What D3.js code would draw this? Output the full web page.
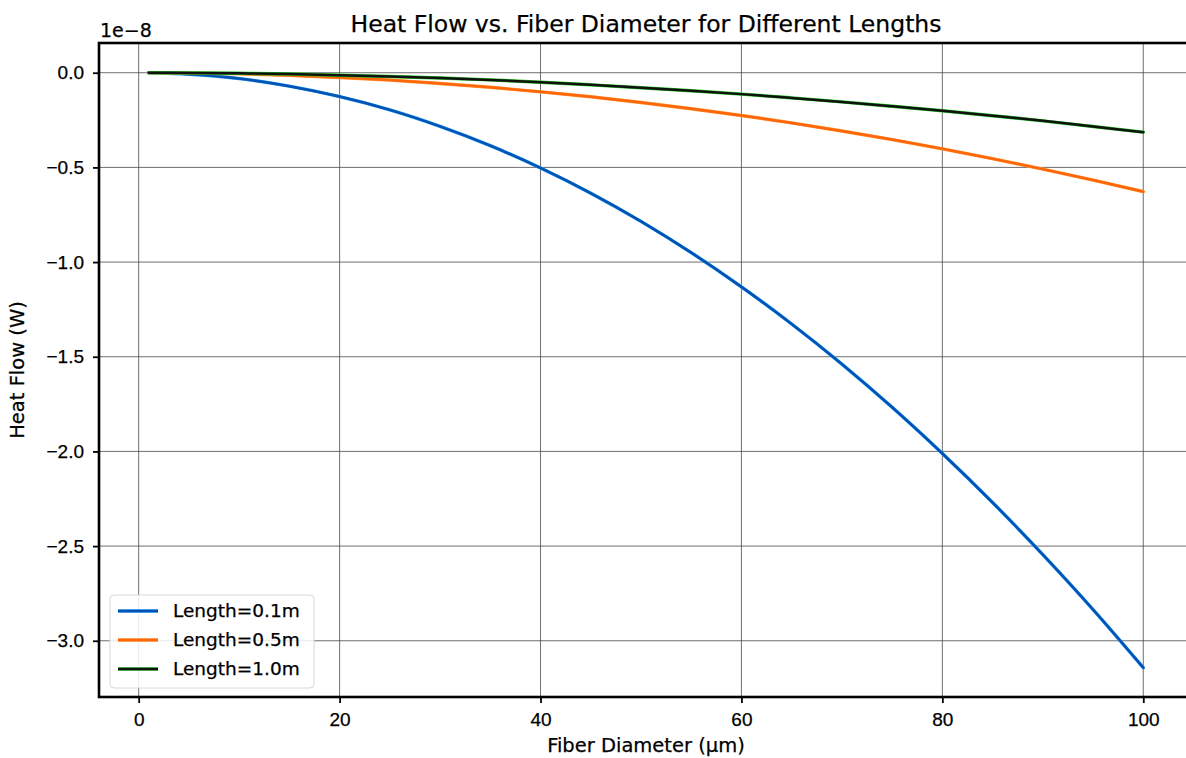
<!DOCTYPE html>
<html>
<head>
<meta charset="utf-8">
<script src="https://cdn.jsdelivr.net/npm/d3@7"></script>
<style>
  body { margin: 0; background: #fff; }
  svg { display: block; font-family: "DejaVu Sans", sans-serif; }
  text { stroke: #000; stroke-width: 0.25px; }
  .grid line { stroke: #4a4a4a; stroke-width: 0.8; }
  .axis path { display: none; }
  .axis line { stroke: #000; stroke-width: 1.8; }
  .axis text { font-size: 19px; fill: #000; }
</style>
</head>
<body>
<div id="chart"></div>
<script>
// Fiber diameters (µm) and heat flow values (in units of 1e-8 W)
const diameters = [1, 5, 10, 15, 20, 25, 30, 35, 40, 45, 50, 55, 60, 65, 70, 75, 80, 85, 90, 95, 100];
const flowShort = [-0.0003, -0.008, -0.031, -0.071, -0.126, -0.196, -0.283, -0.385, -0.503, -0.636, -0.785,
  -0.950, -1.131, -1.327, -1.539, -1.767, -2.011, -2.270, -2.545, -2.835, -3.142];
const flowMid = [-0.0001, -0.002, -0.006, -0.014, -0.025, -0.039, -0.057, -0.077, -0.101, -0.127, -0.157,
  -0.190, -0.226, -0.265, -0.308, -0.353, -0.402, -0.454, -0.509, -0.567, -0.628];
const flowLong = [0, -0.001, -0.003, -0.007, -0.013, -0.020, -0.028, -0.038, -0.050, -0.064, -0.079,
  -0.095, -0.113, -0.133, -0.154, -0.177, -0.201, -0.227, -0.254, -0.284, -0.314];
const seriesNames = ['Length=0.1m', 'Length=0.5m', 'Length=1.0m'];
const xTicks = [0, 20, 40, 60, 80, 100];
const yTicks = [0, -0.5, -1.0, -1.5, -2.0, -2.5, -3.0];

const series = [
  { name: seriesNames[0], values: flowShort, color: '#0052b4', halo: '#2a9cf0' },
  { name: seriesNames[1], values: flowMid, color: '#ff660a', halo: '#ff9a3c' },
  { name: seriesNames[2], values: flowLong, color: '#111', halo: '#22cc22' }
];

const width = 1186, height = 758;
const margin = { top: 43, right: -7, bottom: 61, left: 99 };

const svg = d3.select('#chart').append('svg')
  .attr('width', width)
  .attr('height', height);

const x = d3.scaleLinear()
  .domain([-3.95, 104.95])
  .range([margin.left, width - margin.right]);

const y = d3.scaleLinear()
  .domain([-3.297, 0.157])
  .range([height - margin.bottom, margin.top]);

// Grid lines
svg.append('g').attr('class', 'grid')
  .selectAll('line').data(xTicks).join('line')
  .attr('x1', d => x(d)).attr('x2', d => x(d))
  .attr('y1', margin.top).attr('y2', height - margin.bottom);
svg.append('g').attr('class', 'grid')
  .selectAll('line').data(yTicks).join('line')
  .attr('y1', d => y(d)).attr('y2', d => y(d))
  .attr('x1', margin.left).attr('x2', width - margin.right);

// Axes
svg.append('g').attr('class', 'axis')
  .attr('transform', `translate(0,${height - margin.bottom})`)
  .call(d3.axisBottom(x).tickValues(xTicks).tickSize(6).tickPadding(10).tickFormat(d3.format('d')));

svg.append('g').attr('class', 'axis')
  .attr('transform', `translate(${margin.left},0)`)
  .call(d3.axisLeft(y).tickValues(yTicks).tickSize(6).tickPadding(9)
    .tickFormat(d => d3.format('.1f')(d).replace('-', '\u2212')));

// Lines
const line = d3.line()
  .x((d, i) => x(diameters[i]))
  .y(d => y(d))
  .curve(d3.curveMonotoneX);

const lineGroup = svg.append('g');
series.forEach(s => {
  lineGroup.append('path')
    .attr('d', line(s.values))
    .attr('fill', 'none')
    .attr('stroke', s.halo)
    .attr('stroke-width', 3.4)
    .attr('stroke-linecap', 'round');
  lineGroup.append('path')
    .attr('d', line(s.values))
    .attr('fill', 'none')
    .attr('stroke', s.color)
    .attr('stroke-width', 2.5)
    .attr('stroke-linecap', 'round');
});

// Spines
svg.append('rect')
  .attr('x', margin.left)
  .attr('y', margin.top)
  .attr('width', width - margin.right - margin.left)
  .attr('height', height - margin.bottom - margin.top)
  .attr('fill', 'none')
  .attr('stroke', '#000')
  .attr('stroke-width', 2.6);

// Title, labels, offset text
svg.append('text')
  .attr('x', (margin.left + width - margin.right) / 2)
  .attr('y', 32)
  .attr('text-anchor', 'middle')
  .attr('font-size', 23.5)
  .text('Heat Flow vs. Fiber Diameter for Different Lengths');

svg.append('text')
  .attr('x', (margin.left + width - margin.right) / 2)
  .attr('y', 752)
  .attr('text-anchor', 'middle')
  .attr('font-size', 19.5)
  .text('Fiber Diameter (\u00b5m)');

svg.append('text')
  .attr('transform', `translate(24,${(margin.top + height - margin.bottom) / 2}) rotate(-90)`)
  .attr('text-anchor', 'middle')
  .attr('font-size', 19.5)
  .text('Heat Flow (W)');

svg.append('text')
  .attr('x', margin.left + 1)
  .attr('y', 37)
  .attr('font-size', 19)
  .text('1e\u22128');

// Legend
const legend = svg.append('g').attr('transform', 'translate(110,595)');
legend.append('rect')
  .attr('width', 204)
  .attr('height', 93)
  .attr('rx', 4)
  .attr('fill', '#fff')
  .attr('fill-opacity', 0.85)
  .attr('stroke', '#d8d8d8');

const entries = legend.selectAll('g').data(series).join('g')
  .attr('transform', (d, i) => `translate(0,${16 + i * 29})`);
entries.append('line')
  .attr('x1', 8).attr('x2', 48)
  .attr('stroke', d => d.halo)
  .attr('stroke-width', 3.4);
entries.append('line')
  .attr('x1', 8).attr('x2', 48)
  .attr('stroke', d => d.color)
  .attr('stroke-width', 2.5);
entries.append('text')
  .attr('x', 63)
  .attr('dy', '0.35em')
  .attr('font-size', 18.5)
  .text(d => d.name);
</script>
</body>
</html>
